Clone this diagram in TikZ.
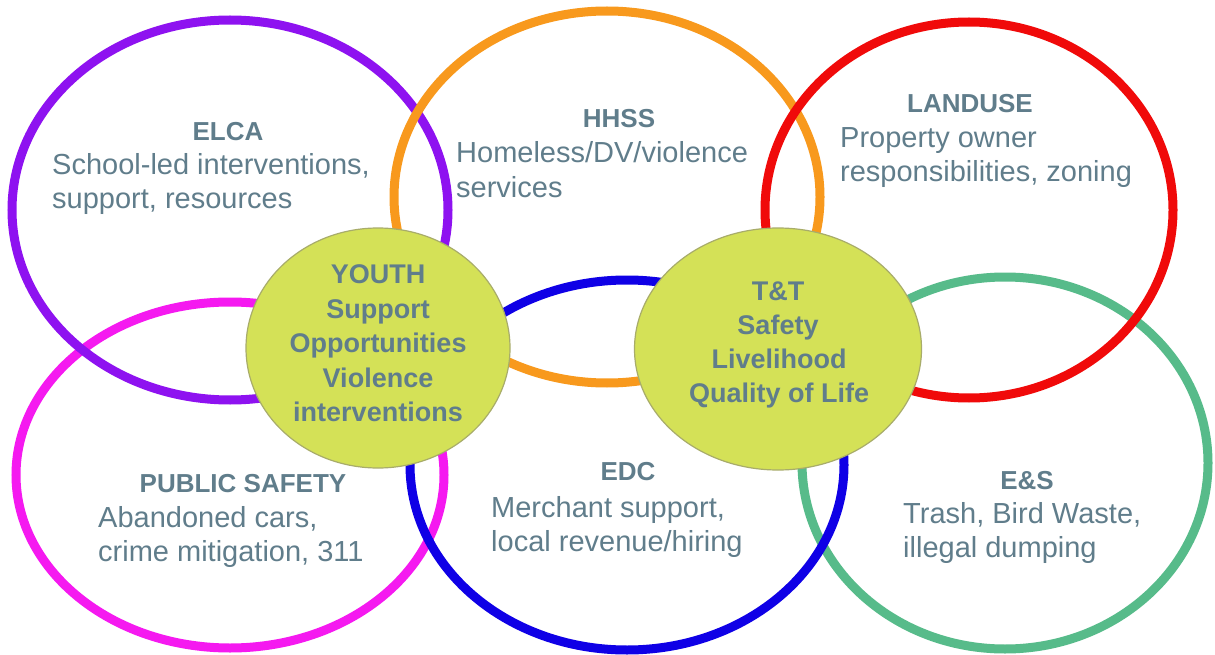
\documentclass[tikz,border=0pt]{standalone}
\usepackage{fontspec}
\setmainfont{Liberation Sans}
\usetikzlibrary{shapes.geometric}
\definecolor{cpurple}{RGB}{142,18,240}
\definecolor{corange}{RGB}{248,153,29}
\definecolor{cred}{RGB}{240,10,10}
\definecolor{cmagenta}{RGB}{245,25,240}
\definecolor{cblue}{RGB}{15,0,230}
\definecolor{cgreen}{RGB}{87,187,138}
\definecolor{clime}{RGB}{212,225,87}
\definecolor{climeedge}{RGB}{168,172,106}
\definecolor{ctext}{RGB}{96,125,139}
\tikzset{
  ring/.style={ellipse, draw=#1, line width=9pt, inner sep=0pt},
  hub/.style={ellipse, draw=climeedge, line width=1.2pt, fill=clime, inner sep=0pt},
  title/.style={anchor=base, text=ctext, inner sep=0pt, font=\fontsize{26}{30}\selectfont\bfseries},
  body/.style={anchor=base west, text=ctext, inner sep=0pt, font=\fontsize{29}{34}\selectfont},
  hubtext/.style={anchor=base, text=ctext, inner sep=0pt, font=\fontsize{27}{32}\selectfont\bfseries}
}
\begin{document}
\begin{tikzpicture}[x=1pt,y=-1pt]
\useasboundingbox (0,0) rectangle (1215,655);
\fill[white] (0,0) rectangle (1215,655);
% rings (drawing order matters)
\node[ring=cmagenta, minimum width=428pt, minimum height=346pt] (ps) at (230,475) {};
\node[ring=cgreen, minimum width=406pt, minimum height=372pt] (es) at (1005,463) {};
\node[ring=cpurple, minimum width=436pt, minimum height=380pt] (elca) at (230,210) {};
\node[ring=cblue, minimum width=434pt, minimum height=370pt] (edc) at (627,465) {};
\node[ring=corange, minimum width=426pt, minimum height=372pt] (hhss) at (607,197) {};
\node[ring=cred, minimum width=408pt, minimum height=376pt] (landuse) at (969,210) {};
% hubs
\node[hub, minimum width=264pt, minimum height=240pt] (youth) at (378,348) {};
\node[hub, minimum width=287pt, minimum height=242pt] (tt) at (778,349) {};
% ELCA
\node[title] (elcaT) at (228,141) {ELCA};
\node[body] (elca1) at (52,175) {School-led interventions,};
\node[body] (elca2) at (52,209) {support, resources};
% HHSS
\node[title] (hhssT) at (619,128) {HHSS};
\node[body] (hhss1) at (456,163) {Homeless/DV/violence};
\node[body] (hhss2) at (456,197) {services};
% LANDUSE
\node[title] (landT) at (970,113) {LANDUSE};
\node[body] (land1) at (840,148) {Property owner};
\node[body] (land2) at (840,182) {responsibilities, zoning};
% PUBLIC SAFETY
\node[title] (psT) at (243,492) {PUBLIC SAFETY};
\node[body] (ps1) at (98,527) {Abandoned cars,};
\node[body] (ps2) at (98,561) {crime mitigation, 311};
% EDC
\node[title] (edcT) at (628,480) {EDC};
\node[body] (edc1) at (491,517) {Merchant support,};
\node[body] (edc2) at (491,551) {local revenue/hiring};
% E&S
\node[title] (esT) at (1027,489) {E\&S};
\node[body] (es1) at (903,523) {Trash, Bird Waste,};
\node[body] (es2) at (903,557) {illegal dumping};
% YOUTH hub text
\node[hubtext] (y1) at (378,283) {YOUTH};
\node[hubtext] (y2) at (378,318) {Support};
\node[hubtext] (y3) at (378,352) {Opportunities};
\node[hubtext] (y4) at (378,387) {Violence};
\node[hubtext] (y5) at (378,421) {interventions};
% T&T hub text
\node[hubtext] (t1) at (778,300) {T\&T};
\node[hubtext] (t2) at (778,334) {Safety};
\node[hubtext] (t3) at (779,368) {Livelihood};
\node[hubtext] (t4) at (779,402) {Quality of Life};
\end{tikzpicture}
\end{document}
